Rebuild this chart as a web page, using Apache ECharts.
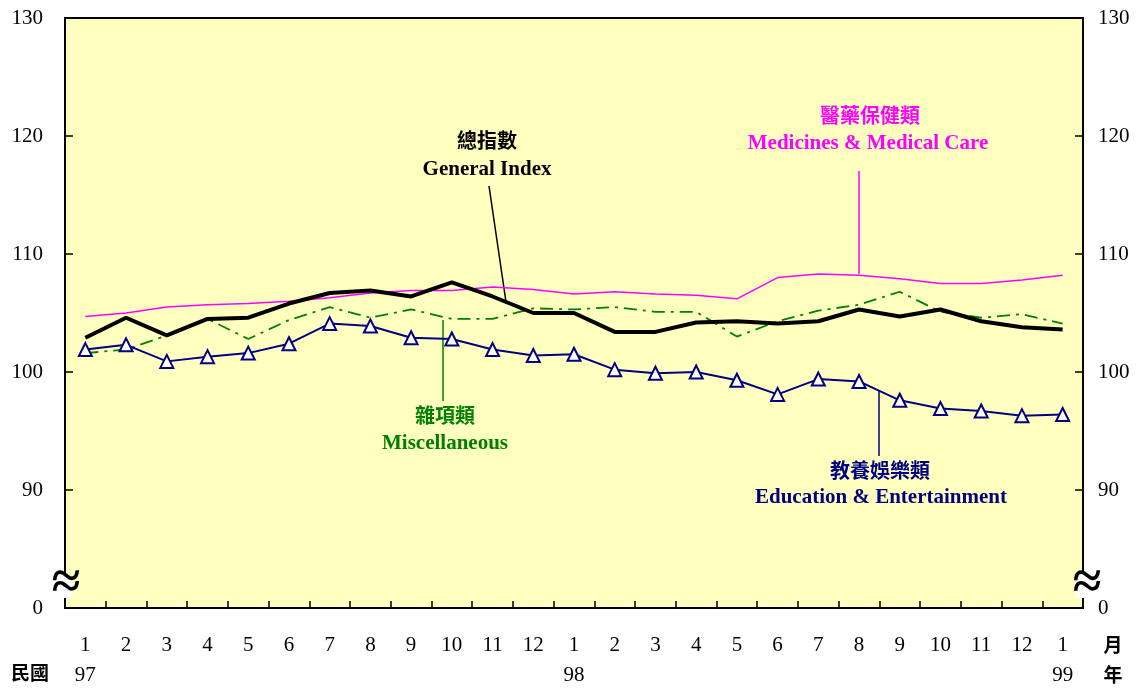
<!DOCTYPE html>
<html><head><meta charset="utf-8">
<script src="https://cdn.jsdelivr.net/npm/echarts@6/dist/echarts.min.js"></script>
<style>html,body{margin:0;padding:0;background:#fff}#c{width:1145px;height:688px}</style>
</head><body><div id="c"></div>
<script>
const months = ['1','2','3','4','5','6','7','8','9','10','11','12','1','2','3','4','5','6','7','8','9','10','11','12','1'];
const years = {0:'97',12:'98',24:'99'};
const yTicks = [80,90,100,110,120,130];
const generalIndex = [102.9,104.6,103.1,104.5,104.6,105.8,106.7,106.9,106.4,107.6,106.4,105.0,105.0,103.4,103.4,104.2,104.3,104.1,104.3,105.3,104.7,105.3,104.3,103.8,103.6];
const medicines = [104.7,105.0,105.5,105.7,105.8,106.0,106.3,106.7,106.9,106.9,107.2,107.0,106.6,106.8,106.6,106.5,106.2,108.0,108.3,108.2,107.9,107.5,107.5,107.8,108.2];
const misc = [101.6,101.9,103.1,104.5,102.8,104.4,105.5,104.6,105.3,104.5,104.5,105.4,105.3,105.5,105.1,105.1,103.0,104.3,105.2,105.7,106.8,105.1,104.6,104.9,104.1];
const education = [101.9,102.3,100.9,101.3,101.6,102.4,104.1,103.9,102.9,102.8,101.9,101.4,101.5,100.2,99.9,100.0,99.3,98.1,99.4,99.2,97.6,96.9,96.7,96.3,96.4];

const serif = '"Liberation Serif","Times New Roman",serif';
const cjk = '"Noto Sans CJK TC","Noto Sans CJK SC",sans-serif';
const chart = echarts.init(document.getElementById('c'));
const yAxisBase = {
  type:'value', min:80, max:130, interval:10,
  axisLine:{show:true,lineStyle:{color:'#000',width:2}},
  axisTick:{show:true,inside:true,length:8,lineStyle:{color:'#000',width:1.5}},
  splitLine:{show:false},
  axisLabel:{fontFamily:serif,fontSize:21,color:'#000',margin:22,
    formatter:v=> v===80?'0':String(v)}
};
chart.setOption({
  animation:false,
  grid:{left:65,right:62,top:18,bottom:80,outerBoundsMode:'none',containLabel:false,show:true,backgroundColor:'#FFFFC0',borderColor:'#000',borderWidth:2},
  xAxis:{type:'category',data:months,boundaryGap:true,
    axisLine:{lineStyle:{color:'#000',width:2}},
    axisTick:{show:true,inside:true,length:7,lineStyle:{color:'#000',width:1.5}},
    axisLabel:{fontFamily:serif,fontSize:21,color:'#000',margin:22,lineHeight:30,interval:0,
      formatter:(v,i)=> years[i]? v+'\n'+years[i] : v+'\n '}
  },
  yAxis:[Object.assign({},yAxisBase,{position:'left'}), Object.assign({},yAxisBase,{position:'right',axisLabel:Object.assign({},yAxisBase.axisLabel,{margin:15})})],
  series:[
    {name:'醫藥保健類',type:'line',data:medicines,symbol:'none',lineStyle:{color:'#FF00FF',width:1.5},z:2},
    {name:'雜項類',type:'line',data:misc,symbol:'none',lineStyle:{color:'#008000',width:1.8,type:[13,6,3,6]},z:3},
    {name:'總指數',type:'line',data:generalIndex,symbol:'none',lineStyle:{color:'#000',width:4},z:4},
    {name:'教養娛樂類',type:'line',data:education,symbol:'triangle',symbolSize:13,
      itemStyle:{color:'#fff',borderColor:'#000080',borderWidth:2},lineStyle:{color:'#000080',width:2},z:5}
  ],
  graphic:[
    {type:'text',x:487,y:140,style:{text:'總指數',font:'bold 20px '+cjk,fill:'#000',align:'center',verticalAlign:'middle'}},
    {type:'text',x:487,y:170,style:{text:'General Index',font:'bold 21px '+serif,fill:'#000',align:'center',verticalAlign:'middle'}},
    {type:'line',shape:{x1:489,y1:186,x2:506,y2:302},style:{stroke:'#000',lineWidth:1.5}},
    {type:'text',x:870,y:115,style:{text:'醫藥保健類',font:'bold 20px '+cjk,fill:'#FF00FF',align:'center',verticalAlign:'middle'}},
    {type:'text',x:868,y:144,style:{text:'Medicines & Medical Care',font:'bold 21px '+serif,fill:'#FF00FF',align:'center',verticalAlign:'middle'}},
    {type:'line',shape:{x1:859,y1:171,x2:859,y2:274},style:{stroke:'#FF00FF',lineWidth:1.5}},
    {type:'text',x:445,y:415,style:{text:'雜項類',font:'bold 20px '+cjk,fill:'#008000',align:'center',verticalAlign:'middle'}},
    {type:'text',x:445,y:444,style:{text:'Miscellaneous',font:'bold 21px '+serif,fill:'#008000',align:'center',verticalAlign:'middle'}},
    {type:'line',shape:{x1:443,y1:320,x2:443,y2:401},style:{stroke:'#008000',lineWidth:1.5}},
    {type:'text',x:880,y:470,style:{text:'教養娛樂類',font:'bold 20px '+cjk,fill:'#000080',align:'center',verticalAlign:'middle'}},
    {type:'text',x:881,y:498,style:{text:'Education & Entertainment',font:'bold 21px '+serif,fill:'#000080',align:'center',verticalAlign:'middle'}},
    {type:'line',shape:{x1:879,y1:391,x2:879,y2:456},style:{stroke:'#000080',lineWidth:1.5}},
    {type:'rect',shape:{x:58,y:574,width:14,height:24},style:{fill:'#fff'},z:100},
    {type:'text',x:66,y:585,z:101,style:{text:'≈',font:'bold 52px '+serif,fill:'#000',align:'center',verticalAlign:'middle'}},
    {type:'rect',shape:{x:1076,y:574,width:14,height:24},style:{fill:'#fff'},z:100},
    {type:'text',x:1087,y:585,z:101,style:{text:'≈',font:'bold 52px '+serif,fill:'#000',align:'center',verticalAlign:'middle'}},
    {type:'text',x:30,y:673,style:{text:'民國',font:'bold 19px '+cjk,fill:'#000',align:'center',verticalAlign:'middle'}},
    {type:'text',x:1113,y:645,style:{text:'月',font:'bold 19px '+cjk,fill:'#000',align:'center',verticalAlign:'middle'}},
    {type:'text',x:1113,y:675,style:{text:'年',font:'bold 19px '+cjk,fill:'#000',align:'center',verticalAlign:'middle'}}
  ]
});
</script></body></html>
